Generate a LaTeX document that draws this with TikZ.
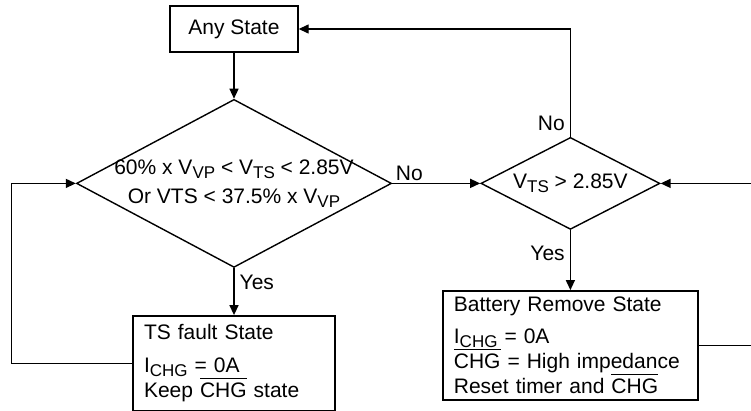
\documentclass[tikz,border=0pt]{standalone}
\usepackage{fontspec}
\setmainfont{Liberation Sans}
\usetikzlibrary{shapes,positioning,arrows.meta}

\newlength\chgwd
\newcommand\lowsub[1]{\raisebox{-4pt}{\fontsize{17}{17}\selectfont #1}}
\newcommand\barchg{\leavevmode\settowidth\chgwd{CHG}\rlap{\smash{\rule[18.5pt]{\chgwd}{1.3pt}}}CHG}

\begin{document}
\begin{tikzpicture}[x=1pt, y=-1pt, line width=1.4pt, >={Triangle[length=10pt,width=9pt]},
    every node/.style={font=\fontsize{21}{25}\selectfont},
    statebox/.style={draw, rectangle, inner ysep=0pt},
    decision/.style={draw, diamond, align=center},
    answer/.style={inner sep=1pt}]
      \useasboundingbox (0,0) rectangle (751,411);

      \node (any) [statebox, minimum width=128pt, minimum height=46pt] at (234,29) {Any State};
      \node (cond) [decision, below=46pt of any, minimum width=315pt, minimum height=168pt,
        aspect=1.875, inner sep=-8pt]
        {60\% x V\lowsub{VP} < V\lowsub{TS} < 2.85V\\[4pt]Or VTS < 37.5\% x V\lowsub{VP}};
      \node (fault) [statebox, below=47pt of cond, minimum height=95pt, text width=180pt,
        inner xsep=11pt, align=left]
        {TS fault State\\[8pt] I\lowsub{CHG} = 0A\\ Keep \barchg{} state};
      \node (check) [decision, right=88pt of cond, minimum width=179pt, minimum height=92pt,
        aspect=1.95, inner sep=0pt] {V\lowsub{TS} > 2.85V};
      \node (remove) [statebox, below=60pt of check, minimum height=109pt, text width=233pt,
        inner xsep=11pt, align=left]
        {Battery Remove State\\[7pt] I\lowsub{CHG} = 0A\\ \barchg{} = High impedance\\ Reset timer and \barchg};

      \node (nocond) [answer, above right=1pt and 2pt of cond.east] {No};
      \node (yescond) [answer, below right=5pt and 4pt of cond.south] {Yes};
      \node (nocheck) [answer, above left=4pt and 4pt of check.north] {No};
      \node (yescheck) [answer, below left=14pt and 4pt of check.south] {Yes};

      \path [->] (any) edge (cond)
      (cond) edge (fault)
      (cond) edge (check)
      (check) edge (remove);

      \draw [->] (fault.west) -- ++(-121,0) |- (cond.west);
      \draw [->] (check.north) |- (any.east);
      \draw [->] (remove.east) -- ++(62,0) |- (check.east);
    \end{tikzpicture}
\end{document}
